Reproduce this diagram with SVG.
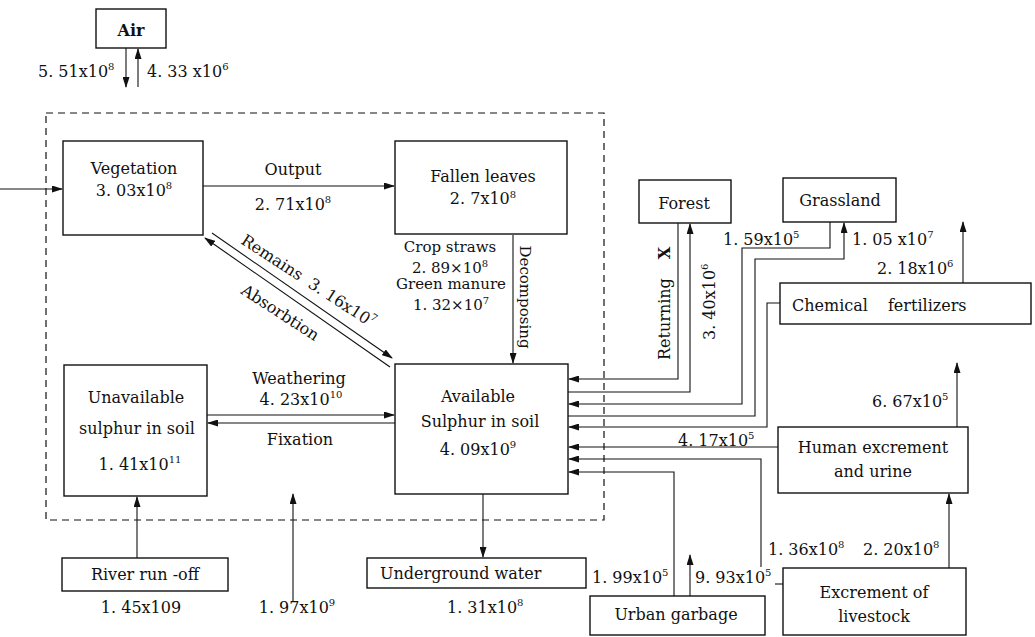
<svg xmlns="http://www.w3.org/2000/svg" width="1035" height="637" viewBox="0 0 1035 637">
<style>
  text { font-family: "DejaVu Serif", "Liberation Serif", serif; font-size: 16px; fill: #111; }
  .c { text-anchor: middle; }
  .s15 { font-size: 15px; }
  .box { fill: #fff; stroke: #111; stroke-width: 1.4; }
  .ln { fill: none; stroke: #111; stroke-width: 1.1; }
  .arr { fill: none; stroke: #111; stroke-width: 1.1; marker-end: url(#ah); }
  .dash { fill: none; stroke: #111; stroke-width: 1.2; stroke-dasharray: 7 5; }
  .sup { font-size: 10px; }
  .b { font-weight: bold; }
</style>
<defs>
  <marker id="ah" markerUnits="userSpaceOnUse" markerWidth="11" markerHeight="7" refX="10" refY="3.5" orient="auto">
    <path d="M0,0 L11,3.5 L0,7 z" fill="#111"/>
  </marker>
</defs>
<rect width="1035" height="637" fill="#fff"/>

<rect class="dash" x="46" y="113" width="558" height="407"/>

<g id="connectors">
  <path class="arr" d="M126 48 V87"/>
  <path class="arr" d="M138 87 V49"/>
  <path class="arr" d="M0 189 H62"/>
  <path class="arr" d="M203 186 H394"/>
  <path class="arr" d="M513 235 V363"/>
  <path class="arr" d="M212 233 L392 358"/>
  <path class="arr" d="M390 367 L205 238"/>
  <path class="arr" d="M207 415 H394"/>
  <path class="arr" d="M395 423 H208"/>
  <path class="arr" d="M483 494 V557"/>
  <path class="arr" d="M137 558 V497"/>
  <path class="arr" d="M293 602 V494"/>
  <path class="arr" d="M678 223 V379 H569"/>
  <path class="arr" d="M568 392 H690 V224"/>
  <path class="arr" d="M830 222 V248 H742 V404 H569"/>
  <path class="arr" d="M568 416 H755 V259 H844 V223"/>
  <path class="arr" d="M780 303 H767 V427 H569"/>
  <path class="arr" d="M963 283 V222"/>
  <path class="arr" d="M778 447 H569"/>
  <path class="arr" d="M957 427 V363"/>
  <path class="arr" d="M761 567 V459 H569"/>
  <path class="ln" d="M775 584 H783"/>
  <path class="arr" d="M674 596 V472 H569"/>
  <path class="arr" d="M690 596 V555"/>
  <path class="arr" d="M949 568 V494"/>
</g>

<g id="edge-labels">
  <text x="38" y="77">5. 51x10<tspan class="sup" dy="-7">8</tspan></text>
  <text x="147" y="77">4. 33 x10<tspan class="sup" dy="-7">6</tspan></text>
  <text class="c" x="293" y="175">Output</text>
  <text class="c" x="293" y="210">2. 71x10<tspan class="sup" dy="-7">8</tspan></text>
  <text class="c s15" x="450" y="252">Crop straws</text>
  <text class="c s15" x="450" y="273">2. 89×10<tspan class="sup" dy="-6">8</tspan></text>
  <text class="c s15" x="451" y="289">Green manure</text>
  <text class="c s15" x="451" y="310">1. 32×10<tspan class="sup" dy="-6">7</tspan></text>
  <text class="c s15" transform="translate(520,297) rotate(90)">Decomposing</text>
  <text transform="translate(240,243) rotate(33)">Remains<tspan dx="10">3. 16x10</tspan><tspan class="sup" dy="-7">7</tspan></text>
  <text transform="translate(240,293) rotate(33)">Absorbtion</text>
  <text class="c" x="299" y="384">Weathering</text>
  <text class="c" x="301" y="405">4. 23x10<tspan class="sup" dy="-7">10</tspan></text>
  <text class="c" x="300" y="445">Fixation</text>
  <text class="c" x="141" y="613">1. 45x109</text>
  <text class="c" x="297" y="613">1. 97x10<tspan class="sup" dy="-7">9</tspan></text>
  <text x="447" y="613">1. 31x10<tspan class="sup" dy="-7">8</tspan></text>
  <text transform="translate(670,360) rotate(-90)">Returning<tspan class="b" dx="19">X</tspan></text>
  <text transform="translate(715,340) rotate(-90)">3. 40x10<tspan class="sup" dy="-7">6</tspan></text>
  <text x="723" y="245">1. 59x10<tspan class="sup" dy="-7">5</tspan></text>
  <text x="852" y="245">1. 05 x10<tspan class="sup" dy="-7">7</tspan></text>
  <text x="877" y="274">2. 18x10<tspan class="sup" dy="-7">6</tspan></text>
  <text x="872" y="407">6. 67x10<tspan class="sup" dy="-7">5</tspan></text>
  <text x="678" y="446">4. 17x10<tspan class="sup" dy="-7">5</tspan></text>
  <text x="768" y="555">1. 36x10<tspan class="sup" dy="-7">8</tspan></text>
  <text x="863" y="555">2. 20x10<tspan class="sup" dy="-7">8</tspan></text>
  <text x="592" y="583">1. 99x10<tspan class="sup" dy="-7">5</tspan></text>
  <text x="695" y="583">9. 93x10<tspan class="sup" dy="-7">5</tspan></text>
</g>

<g id="air">
  <rect class="box" x="96" y="9" width="70" height="39"/>
  <text class="c b" x="131" y="36" font-size="15">Air</text>
</g>
<g id="vegetation">
  <rect class="box" x="63" y="141" width="140" height="94"/>
  <text class="c" x="134" y="174">Vegetation</text>
  <text class="c" x="134" y="196">3. 03x10<tspan class="sup" dy="-7">8</tspan></text>
</g>
<g id="fallen-leaves">
  <rect class="box" x="395" y="141" width="172" height="93"/>
  <text class="c" x="483" y="182">Fallen leaves</text>
  <text class="c" x="483" y="204">2. 7x10<tspan class="sup" dy="-6">8</tspan></text>
</g>
<g id="unavailable">
  <rect class="box" x="64" y="365" width="143" height="131"/>
  <text class="c" x="136" y="403">Unavailable</text>
  <text class="c" x="137" y="434">sulphur in soil</text>
  <text class="c" x="140" y="470">1. 41x10<tspan class="sup" dy="-7">11</tspan></text>
</g>
<g id="available">
  <rect class="box" x="395" y="364" width="173" height="130"/>
  <text class="c" x="478" y="402">Available</text>
  <text class="c" x="480" y="427">Sulphur in soil</text>
  <text class="c" x="478" y="455">4. 09x10<tspan class="sup" dy="-7">9</tspan></text>
</g>
<g id="river-runoff">
  <rect class="box" x="62" y="558" width="166" height="33"/>
  <text class="c" x="145" y="580">River run -off</text>
</g>
<g id="underground-water">
  <rect class="box" x="367" y="558" width="219" height="30"/>
  <text x="380" y="579">Underground water</text>
</g>
<g id="forest">
  <rect class="box" x="639" y="180" width="92" height="43"/>
  <text class="c" x="684" y="209">Forest</text>
</g>
<g id="grassland">
  <rect class="box" x="783" y="178" width="113" height="44"/>
  <text class="c" x="840" y="206">Grassland</text>
</g>
<g id="chemical-fertilizers">
  <rect class="box" x="780" y="283" width="251" height="41"/>
  <text x="792" y="311">Chemical<tspan dx="20">fertilizers</tspan></text>
</g>
<g id="human-excrement">
  <rect class="box" x="778" y="427" width="190" height="66"/>
  <text class="c" x="873" y="453">Human excrement</text>
  <text class="c" x="873" y="477">and urine</text>
</g>
<g id="urban-garbage">
  <rect class="box" x="590" y="596" width="175" height="39"/>
  <text class="c" x="676" y="620">Urban garbage</text>
</g>
<g id="excrement-livestock">
  <rect class="box" x="783" y="568" width="183" height="67"/>
  <text class="c" x="874" y="598">Excrement of</text>
  <text class="c" x="874" y="622">livestock</text>
</g>
</svg>
